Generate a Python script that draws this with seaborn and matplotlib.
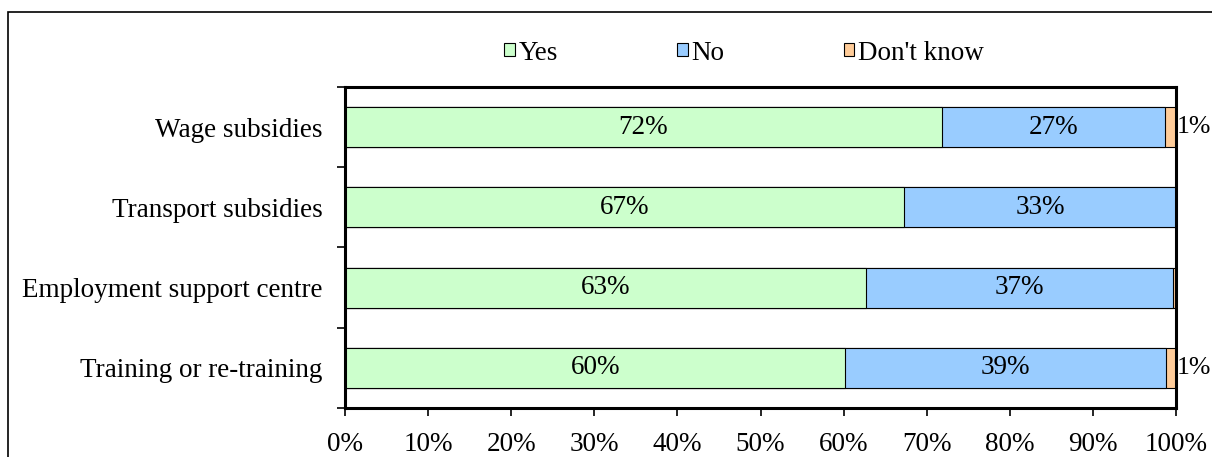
import numpy as np
import pandas as pd
import matplotlib
matplotlib.use('Agg')
import matplotlib.pyplot as plt
from matplotlib.patches import Rectangle, Patch
import seaborn as sns

# data (percent)
measures = ['Wage subsidies', 'Transport subsidies', 'Employment support centre', 'Training or re-training']
yes = [71.8, 67.3, 62.7, 60.2]
no = [26.9, 32.7, 36.9, 38.6]
dont_know = [1.3, 0.0, 0.4, 1.2]
series = ['Yes', 'No', "Don't know"]
colors = ['#CCFFCC', '#99CCFF', '#FFCC99']

FS = 19.5

sns.set_style('white')
plt.rcParams['font.family'] = ['Liberation Serif', 'DejaVu Serif']
plt.rcParams['font.size'] = FS
plt.rcParams['text.color'] = 'black'
plt.rcParams['xtick.color'] = 'black'
plt.rcParams['ytick.color'] = 'black'
plt.rcParams['axes.labelcolor'] = 'black'

df = pd.DataFrame({'measure': measures, 'Yes': yes, 'No': no, "Don't know": dont_know})
df['c_yes'] = df['Yes']
df['c_no'] = df['Yes'] + df['No']
df['c_dk'] = df['c_no'] + df["Don't know"]

fig = plt.figure(figsize=(12.12, 4.57), dpi=100)
ax = fig.add_axes([345/1212, 1 - 408/457, (1176 - 345)/1212, (408 - 87)/457])

# stacked via layered cumulative bars
for col, c in [('c_dk', colors[2]), ('c_no', colors[1]), ('c_yes', colors[0])]:
    sns.barplot(data=df, x=col, y='measure', orient='h', color=c, width=0.5,
                edgecolor='black', linewidth=0.8, saturation=1, ax=ax)

# labels
for i, row in df.iterrows():
    ax.text(row['Yes'] / 2, i, f"{row['Yes']:.0f}%", ha='center', va='center', fontsize=FS)
    ax.text(row['Yes'] + row['No'] / 2, i, f"{row['No']:.0f}%", ha='center', va='center', fontsize=FS)
    if row["Don't know"] >= 0.5:
        ax.text(100.1, i, f"{row['Don\'t know']:.0f}%", ha='left', va='center', fontsize=18.5)

ax.set_xlim(0, 100)
ax.set_ylim(3.5, -0.5)
ax.set_xticks(np.arange(0, 101, 10))
ax.set_xticklabels([f'{v}%' for v in range(0, 101, 10)])
ax.set_xlabel('')
ax.set_ylabel('')
ax.set_yticks(np.arange(-0.5, 4, 1), minor=True)
ax.tick_params(axis='y', which='major', length=0, pad=16)
ax.tick_params(axis='y', which='minor', length=6, width=1.2, direction='out', left=True)
ax.tick_params(axis='x', which='major', length=6, width=1.2, direction='out', bottom=True, pad=11)
for s in ax.spines.values():
    s.set_visible(True)
    s.set_color('black')
    s.set_linewidth(2.2)

handles = [Patch(facecolor=c, edgecolor='black', linewidth=0.8) for c in colors]
fig.legend(handles, series, loc='center', bbox_to_anchor=(0.614, 1 - 53/457), ncol=3,
           frameon=False, fontsize=FS, handlelength=0.38, handleheight=0.38,
           handletextpad=0.15, columnspacing=4.4)

# figure border
fig.patches.append(Rectangle((8/1212, -0.05), 1.0, 1 - 12/457 + 0.05, transform=fig.transFigure,
                             fill=False, edgecolor='black', linewidth=1.2))

fig.savefig('out.png', dpi=100)
